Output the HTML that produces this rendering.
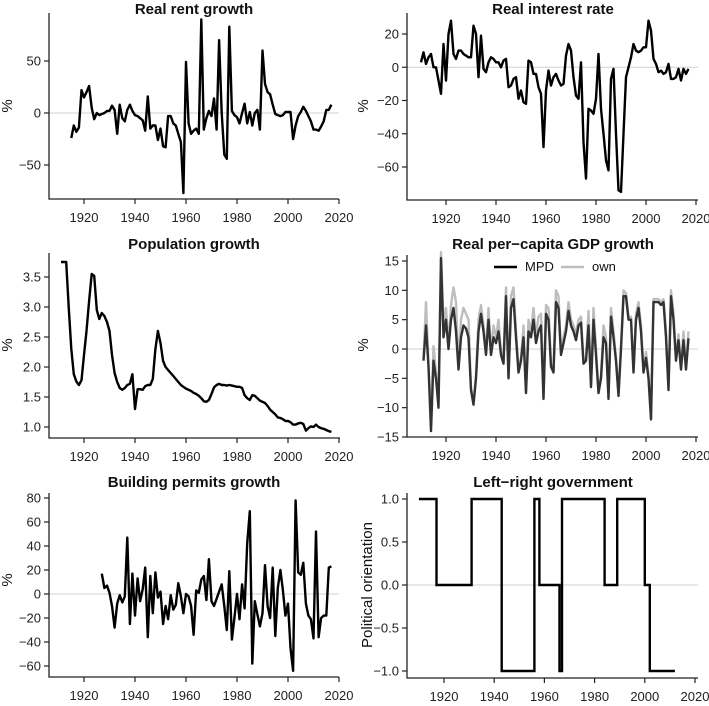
<!DOCTYPE html>
<html><head><meta charset="utf-8">
<style>
body{margin:0;background:#fff}
svg{display:block;font-family:"Liberation Sans",Arial,sans-serif}
</style></head>
<body>
<svg id="c" width="709" height="706" viewBox="0 0 709 706"></svg>
<script>
const rentYears0 = 1915;
const rentValues = [-24,-12,-18,-14,22,15,20,26,5,-6,0,-2,-1,0,2,2,7,3,-20,8,-5,-8,3,8,2,-2,-3,-5,-7,-17,16,-15,-12,-12,-26,-15,-32,-33,-3,-3,-10,-12,-20,-28,-77,49,-10,-20,-17,-15,-20,90,-16,-5,2,-3,14,-16,70,0,-40,-44,83,2,-2,-4,-10,0,9,-10,1,-12,0,3,-16,60,28,20,18,8,-1,-2,-3,-2,1,1,1,-25,-12,-3,1,6,2,-3,-8,-16,-16,-17,-13,-8,3,3,8];
const rateYears0 = 1910;
const rateValues = [3,9,2,6,8,0,0,-8,-16,14,-8,20,28,8,5,10,10,8,7,6,6,25,20,-6,19,-1,-3,3,6,5,3,3,0,4,5,-12,-11,-7,-6,-19,-14,-21,-22,4,3,-4,-4,-12,-16,-48,-14,-2,-11,-6,-4,-8,-11,-10,7,14,10,-6,-17,-19,3,-45,-67,-25,-26,-28,-19,8,-25,-40,-56,-62,-7,-1,-40,-74,-75,-40,-6,0,6,14,10,9,10,12,12,28,22,5,2,-3,-2,-4,-3,2,-7,-7,-6,-1,-8,-1,-4,-1];
const popYears0 = 1911;
const popValues = [3.75,3.75,3.75,3.0,2.3,1.88,1.76,1.7,1.78,2.2,2.6,3.1,3.55,3.52,2.95,2.8,2.9,2.85,2.75,2.6,2.2,1.9,1.75,1.65,1.62,1.65,1.7,1.72,1.88,1.3,1.63,1.63,1.62,1.68,1.7,1.7,1.8,2.3,2.6,2.4,2.1,2.0,1.95,1.9,1.85,1.8,1.75,1.7,1.67,1.64,1.62,1.6,1.57,1.55,1.52,1.48,1.43,1.42,1.45,1.55,1.66,1.7,1.72,1.7,1.7,1.69,1.7,1.69,1.68,1.67,1.67,1.65,1.53,1.48,1.45,1.53,1.52,1.48,1.44,1.42,1.4,1.35,1.29,1.25,1.21,1.16,1.15,1.13,1.1,1.1,1.08,1.04,1.04,1.06,1.07,1.05,0.94,0.98,1.01,1.0,1.04,1.0,0.98,0.97,0.95,0.93,0.92];
const gdpYears0 = 1911;
const gdpMPD = [-2,4,-3,-14,-2,-5,-10,15.5,2,5,0,5,7,3,-3.5,2,4,3.5,2,-7,-9.5,-5,3,6,3,-1,5,-1,2,1,3,-1,-2.5,9,-5,7,8.5,2,-4,-2,2,-7.5,3,2,5,1,3,4,-8.5,6,5,-3,-4,8,7,-1,1,3,6.5,4,3,1.5,4,4.5,-2.5,-2,4,-6.5,5,-1,-7.5,-5,2,1,-8.5,5.5,2,-2,-8,0,9,9,5,5,-4,5,7,3,-4,-1.5,-5,-12,8,8,8,7.5,8,2,-7,9,5,-2,1.5,-3.5,1.5,-3.5,1.8];
const gdpOwn = [-1.5,8,-2.5,-12,0.5,-4,-9,16.5,4,7,0.5,7.5,10.5,8,-3,5,7,6,5,-6.5,-9,-4.5,5,7.5,4,-0.5,7,-0.5,4,2,5,-0.5,-2,10.5,-4.5,9,10.5,3,-3.5,-1.5,4,-7,5,3,7,2,5.5,6,-8,7.5,7,-2.5,-3.5,10,9,-0.5,2,4,8,5,4,2.5,5,5.5,-2,-1.5,6.5,-6,7,0,-7,-4.5,4,2,-8,7,3,-1.5,-7.5,0.5,10,9.5,5.5,5.5,-3.5,6,8,4,-3.5,-0.5,-4.5,-11.5,8.5,8.5,8.5,8,8.5,3,-6.5,10,6,-1.5,2.5,-3,3,-3,3];
const permYears0 = 1927;
const permValues = [17,5,7,1,-10,-28,-8,-1,-7,-2,47,-25,17,-18,13,-6,4,22,-36,15,-16,18,-3,2,-25,-10,-21,-1,-13,-9,9,-2,-16,0,-2,-10,-34,3,1,12,15,-5,29,-6,-10,-4,2,8,-10,-30,19,-38,-20,0,-21,8,-12,42,69,-58,-6,-17,-27,-16,24,-10,-20,22,-35,5,20,3,-18,-8,-45,-64,78,18,16,26,-8,-18,-21,-37,52,-36,-20,-18,-18,22,23];
const govChangeYears = [1910,1917,1931,1943,1956,1958,1966,1967,1984,1989,2000,2002,2012];
const govValues = [1,0,1,-1,1,0,-1,1,0,1,0,-1,-1];
const xTicks = [1920,1940,1960,1980,2000,2020];

const NS="http://www.w3.org/2000/svg";
const svg=document.getElementById('c');
function mk(tag,attrs,parent){const e=document.createElementNS(NS,tag);for(const k in attrs)e.setAttribute(k,attrs[k]);(parent||svg).appendChild(e);return e;}

function panel(cfg){
  const g=mk('g',{});
  
  
  const X=y=>cfg.x1920+(y-1920)*cfg.kx;
  const Y=v=>cfg.yA+(v-cfg.vA)*(cfg.yB-cfg.yA)/(cfg.vB-cfg.vA);
  if(!cfg.noZero){
    const z=mk('line',{x1:cfg.left,x2:cfg.right,y1:Y(0),y2:Y(0),stroke:'#d0d0d0','stroke-width':1},g);
    
    
  }
  const ax=mk('path',{d:`M${cfg.left},${cfg.top}V${cfg.bottom}H${cfg.right}`,fill:'none',stroke:'#222','stroke-width':1.3},g);
  
  
  xTicks.forEach(t=>{
    mk('line',{x1:X(t),x2:X(t),y1:cfg.bottom,y2:cfg.bottom+5,stroke:'#222','stroke-width':1.2},g);
    const tx=mk('text',{x:X(t),y:cfg.bottom+23,'text-anchor':'middle','font-size':13,fill:'#222'},g);
    tx.textContent=t;
    
    
  });
  cfg.yTicks.forEach((t,i)=>{
    mk('line',{x1:cfg.left-5,x2:cfg.left,y1:Y(t),y2:Y(t),stroke:'#222','stroke-width':1.2},g);
    const tx=mk('text',{x:cfg.left-8,y:Y(t)+4.5,'text-anchor':'end','font-size':13,fill:'#222'},g);
    tx.textContent=cfg.yLabels[i];
    
    
  });
  const ti=mk('text',{x:cfg.titleX,y:cfg.titleY,'text-anchor':'middle','font-size':15,'font-weight':'bold',fill:'#111'},g);
  ti.textContent=cfg.title;
  
  
  const yl=mk('text',{x:cfg.ylX,y:cfg.ylY,'text-anchor':'middle','font-size':cfg.ylSize||15,fill:'#111',transform:`rotate(-90 ${cfg.ylX} ${cfg.ylY})`},g);
  yl.textContent=cfg.ylab;
  
  
  return {g,X,Y};
}
function series(p,y0,vals,color,name,w){
  const d=vals.map((v,i)=>(i?'L':'M')+p.X(y0+i).toFixed(1)+','+p.Y(v).toFixed(1)).join('');
  const e=mk('path',{d,fill:'none',stroke:color,'stroke-width':w||2.4,'stroke-linejoin':'round'},p.g);
  
  
}

let p=panel({name:'rent-growth-panel',title:'Real rent growth',titleX:194,titleY:14,left:49,right:339,top:13,bottom:199,x1920:84,kx:2.55,yA:61,vA:50,yB:165,vB:-50,yTicks:[-50,0,50],yLabels:['\u221250','0','50'],ylab:'%',ylX:12,ylY:106});
series(p,rentYears0,rentValues,'#000','rent-growth-line');
p=panel({name:'interest-rate-panel',title:'Real interest rate',titleX:553,titleY:14,left:407,right:698,top:13,bottom:200,x1920:446,kx:2.5,yA:34,vA:20,yB:167,vB:-60,yTicks:[-60,-40,-20,0,20],yLabels:['\u221260','\u221240','\u221220','0','20'],ylab:'%',ylX:368,ylY:106});
series(p,rateYears0,rateValues,'#000','interest-rate-line');
p=panel({name:'population-growth-panel',title:'Population growth',titleX:194,titleY:249,left:49,right:340,top:253,bottom:438,x1920:84,kx:2.55,yA:277,vA:3.5,yB:427,vB:1.0,yTicks:[1.0,1.5,2.0,2.5,3.0,3.5],yLabels:['1.0','1.5','2.0','2.5','3.0','3.5'],ylab:'%',ylX:12,ylY:345,noZero:true});
series(p,popYears0,popValues,'#000','population-growth-line');
p=panel({name:'gdp-growth-panel',title:'Real per\u2212capita GDP growth',titleX:553,titleY:249,left:407,right:698,top:255,bottom:437,x1920:446,kx:2.5,yA:261,vA:15,yB:437,vB:-15,yTicks:[-15,-10,-5,0,5,10,15],yLabels:['\u221215','\u221210','\u22125','0','5','10','15'],ylab:'%',ylX:368,ylY:345});
series(p,gdpYears0,gdpOwn,'#bdbdbd','gdp-own-line');
series(p,gdpYears0,gdpMPD,'#333','gdp-mpd-line');
let l=mk('line',{x1:494,x2:517,y1:267,y2:267,stroke:'#000','stroke-width':2.5});


let t=mk('text',{x:525,y:271,'font-size':13,fill:'#111'});t.textContent='MPD';


l=mk('line',{x1:561,x2:584,y1:267,y2:267,stroke:'#bdbdbd','stroke-width':2.5});


t=mk('text',{x:592,y:271,'font-size':13,fill:'#111'});t.textContent='own';


p=panel({name:'building-permits-panel',title:'Building permits growth',titleX:194,titleY:487,left:49,right:339,top:493,bottom:677,x1920:84,kx:2.55,yA:498,vA:80,yB:666,vB:-60,yTicks:[-60,-40,-20,0,20,40,60,80],yLabels:['\u221260','\u221240','\u221220','0','20','40','60','80'],ylab:'%',ylX:12,ylY:580});
series(p,permYears0,permValues,'#000','building-permits-line');
p=panel({name:'government-panel',title:'Left\u2212right government',titleX:553,titleY:487,left:407,right:698,top:493,bottom:678,x1920:444,kx:2.51,yA:499,vA:1,yB:671,vB:-1,yTicks:[-1,-0.5,0,0.5,1],yLabels:['\u22121.0','\u22120.5','0.0','0.5','1.0'],ylab:'Political orientation',ylX:372,ylY:585,ylSize:15});
{
  let d='';
  govChangeYears.forEach((yr,i)=>{
    const x=p.X(yr).toFixed(1),y=p.Y(govValues[i]).toFixed(1);
    if(i===0)d+=`M${x},${y}`;else d+=`H${x}V${y}`;
  });
  const e=mk('path',{d,fill:'none',stroke:'#000','stroke-width':2.4},p.g);
  
  
}
</script>
</body></html>
